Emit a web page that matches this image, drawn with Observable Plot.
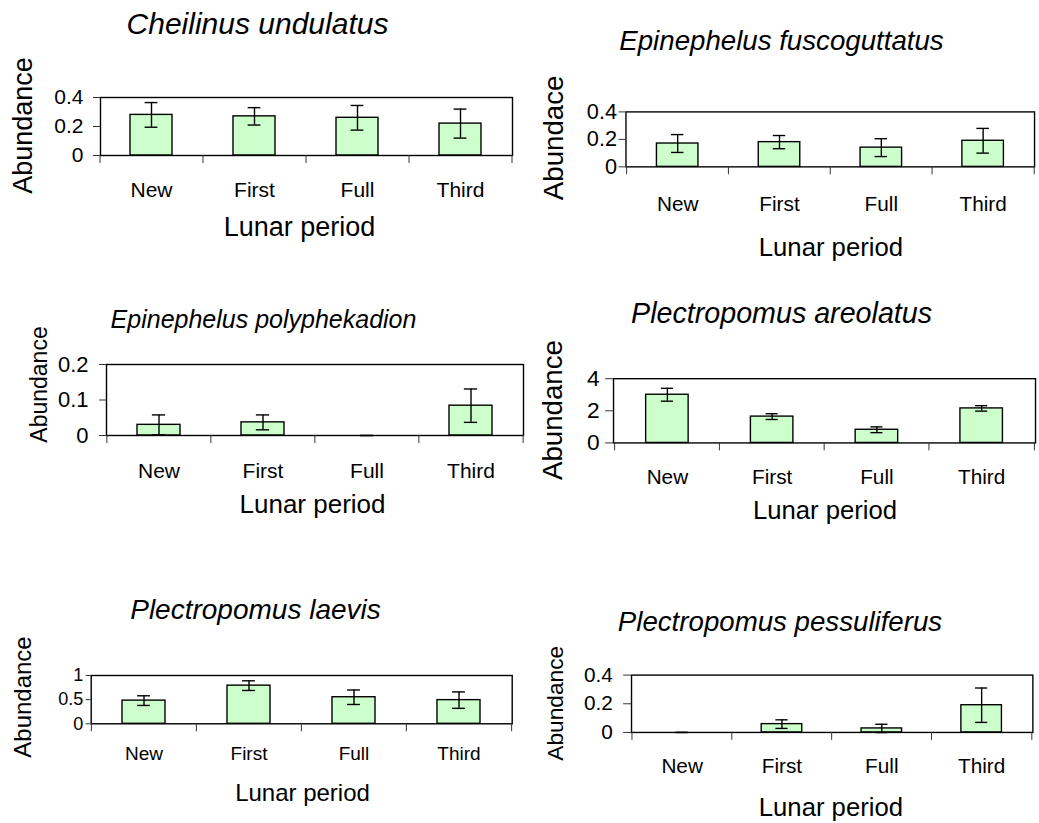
<!DOCTYPE html>
<html>
<head>
<meta charset="utf-8">
<script src="https://cdn.jsdelivr.net/npm/d3@7"></script>
<script src="https://cdn.jsdelivr.net/npm/@observablehq/plot@0.6"></script>
<style>
  html, body { margin: 0; padding: 0; background: #ffffff; overflow: hidden; }
  #page { position: relative; width: 1039px; height: 823px; overflow: hidden; background: #ffffff; }
  .panel { position: absolute; }
</style>
</head>
<body>
<div id="page"></div>
<script>
// ---- Data ----
const categories = ["New", "First", "Full", "Third"];
const xLabel = "Lunar period";

const cheilinusMean = [0.28, 0.27, 0.26, 0.22];
const cheilinusErr  = [0.085, 0.06, 0.085, 0.10];

const fuscoMean = [0.17, 0.18, 0.14, 0.19];
const fuscoErr  = [0.065, 0.048, 0.065, 0.09];

const polyMean = [0.03, 0.037, 0, 0.084];
const polyErr  = [0.028, 0.021, 0, 0.047];

const areoMean = [3.0, 1.64, 0.82, 2.15];
const areoErr  = [0.4, 0.18, 0.18, 0.17];

const laevisMean = [0.48, 0.79, 0.55, 0.49];
const laevisErr  = [0.1, 0.1, 0.15, 0.17];

const pessMean = [0, 0.058, 0.028, 0.19];
const pessErr  = [0, 0.03, 0.029, 0.12];

const ticks04 = [0, 0.2, 0.4];
const ticks02 = [0, 0.1, 0.2];
const ticks4  = [0, 2, 4];
const ticks1  = [0, 0.5, 1];

// ---- Panel layout (page coordinates) ----
const panels = [
  {title: "Cheilinus undulatus", yLabel: "Abundance", mean: cheilinusMean, err: cheilinusErr, yMax: 0.4, yTicks: ticks04,
   x0: 0, y0: 0, w: 520, h: 285, l: 100, r: 512, t: 97, b: 155,
   titleX: 257, titleY: 24, titleFont: 30, yLabX: 23, yLabY: 125, yLabFont: 27,
   tickFont: 21, ytSize: 7, ytPad: 10, catFont: 21, catY: 189, xLabX: 299, xLabY: 227, xLabFont: 27},
  {title: "Epinephelus fuscoguttatus", yLabel: "Abundace", mean: fuscoMean, err: fuscoErr, yMax: 0.4, yTicks: ticks04,
   x0: 520, y0: 0, w: 525, h: 285, l: 626.7, r: 1040, t: 112.7, b: 168.3,
   titleX: 784, titleY: 41, titleFont: 28, yLabX: 554, yLabY: 139, yLabFont: 28,
   tickFont: 22, ytSize: 7, ytPad: 2, catFont: 21, catY: 206, xLabX: 834, xLabY: 250, xLabFont: 26},
  {title: "Epinephelus polyphekadion", yLabel: "Abundance", mean: polyMean, err: polyErr, yMax: 0.2, yTicks: ticks02,
   x0: 0, y0: 285, w: 530, h: 270, l: 106, r: 523, t: 364, b: 435,
   titleX: 263, titleY: 319, titleFont: 25, yLabX: 39.5, yLabY: 384, yLabFont: 23,
   tickFont: 22, ytSize: 7, ytPad: 11, catFont: 21, catY: 470, xLabX: 312, xLabY: 504, xLabFont: 26},
  {title: "Plectropomus areolatus", yLabel: "Abundance", mean: areoMean, err: areoErr, yMax: 4, yTicks: ticks4,
   x0: 530, y0: 285, w: 515, h: 270, l: 614, r: 1041, t: 379.3, b: 444.3,
   titleX: 784, titleY: 314, titleFont: 29, yLabX: 552.5, yLabY: 411, yLabFont: 28,
   tickFont: 23, ytSize: 8, ytPad: 6, catFont: 21, catY: 478, xLabX: 828, xLabY: 513, xLabFont: 26},
  {title: "Plectropomus laevis", yLabel: "Abundance", mean: laevisMean, err: laevisErr, yMax: 1, yTicks: ticks1,
   x0: 0, y0: 555, w: 520, h: 268, l: 90.7, r: 511.7, t: 675, b: 723.3,
   titleX: 255, titleY: 610, titleFont: 28, yLabX: 22.5, yLabY: 696.5, yLabFont: 24,
   tickFont: 18, ytSize: 5, ytPad: 3, catFont: 19, catY: 753, xLabX: 302, xLabY: 793, xLabFont: 24},
  {title: "Plectropomus pessuliferus", yLabel: "Abundance", mean: pessMean, err: pessErr, yMax: 0.4, yTicks: ticks04,
   x0: 520, y0: 555, w: 525, h: 268, l: 632.3, r: 1038.3, t: 676, b: 734,
   titleX: 782.5, titleY: 622, titleFont: 28, yLabX: 555.5, yLabY: 704.5, yLabFont: 23,
   tickFont: 21, ytSize: 8, ytPad: 11, catFont: 21, catY: 767.5, xLabX: 834, xLabY: 810, xLabFont: 26}
];

const page = document.getElementById("page");
const FONT = "'Liberation Sans', Arial, Helvetica, sans-serif";

function makePanel(cfg) {
  const {x0, y0, w, h, l, r, t, b} = cfg;
  const n = categories.length;
  const step = (r - l) / n;
  const pi = 0.59;
  const bw = step * (1 - pi);
  const capInset = (bw - 13) / 2;
  const data = categories.map((c, i) => ({cat: c, mean: cfg.mean[i], err: cfg.err[i]}));
  const rel = (X, Y) => ({frameAnchor: "top-left", dx: X - l, dy: Y - t});
  const catCapTop = cfg.catY - 0.36 * cfg.catFont;
  const sw = 1.4;

  const chart = Plot.plot({
    width: w,
    height: h,
    marginLeft: l - x0,
    marginRight: x0 + w - r,
    marginTop: t - y0,
    marginBottom: y0 + h - b,
    style: {fontFamily: FONT, color: "black", background: "transparent", overflow: "visible"},
    x: {type: "band", domain: categories, paddingInner: pi, paddingOuter: pi / 2},
    y: {domain: [0, cfg.yMax]},
    marks: [
      Plot.barY(data, {x: "cat", y: "mean", fill: "#ccffcc", stroke: "black", strokeWidth: sw}),
      Plot.ruleX(data, {x: "cat", y1: d => d.mean - d.err, y2: d => d.mean + d.err, stroke: "black", strokeWidth: sw}),
      Plot.tickY(data, {x: "cat", y: d => d.mean + d.err, insetLeft: capInset, insetRight: capInset, stroke: "black", strokeWidth: sw}),
      Plot.tickY(data, {x: "cat", y: d => d.mean - d.err, insetLeft: capInset, insetRight: capInset, stroke: "black", strokeWidth: sw}),
      Plot.frame({stroke: "black", strokeWidth: sw}),
      Plot.axisY({ticks: cfg.yTicks, tickSize: cfg.ytSize, tickPadding: cfg.ytPad, fontSize: cfg.tickFont,
                  tickFormat: d => String(d), label: null, stroke: "#333"}),
      Plot.axisX({tickSize: 8, tickFormat: () => "", dx: -step / 2, label: null, stroke: "#333"}),
      Plot.axisX({ticks: [categories[n - 1]], tickSize: 8, tickFormat: () => "", dx: step / 2, label: null, stroke: "#333"}),
      Plot.axisX({tickSize: 0, tickPadding: catCapTop - b, fontSize: cfg.catFont, label: null}),
      Plot.text([cfg.title], {...rel(cfg.titleX, cfg.titleY), text: d => d, fontSize: cfg.titleFont,
                 fontStyle: "italic", textAnchor: "middle", lineAnchor: "middle", fill: "black"}),
      Plot.text([cfg.yLabel], {...rel(cfg.yLabX, cfg.yLabY), text: d => d, fontSize: cfg.yLabFont,
                 rotate: -90, textAnchor: "middle", lineAnchor: "middle", fill: "black"}),
      Plot.text([xLabel], {...rel(cfg.xLabX, cfg.xLabY), text: d => d, fontSize: cfg.xLabFont,
                 textAnchor: "middle", lineAnchor: "middle", fill: "black"})
    ]
  });
  const div = document.createElement("div");
  div.className = "panel";
  div.style.left = x0 + "px";
  div.style.top = y0 + "px";
  div.appendChild(chart);
  page.appendChild(div);
}

panels.forEach(makePanel);
</script>
</body>
</html>
